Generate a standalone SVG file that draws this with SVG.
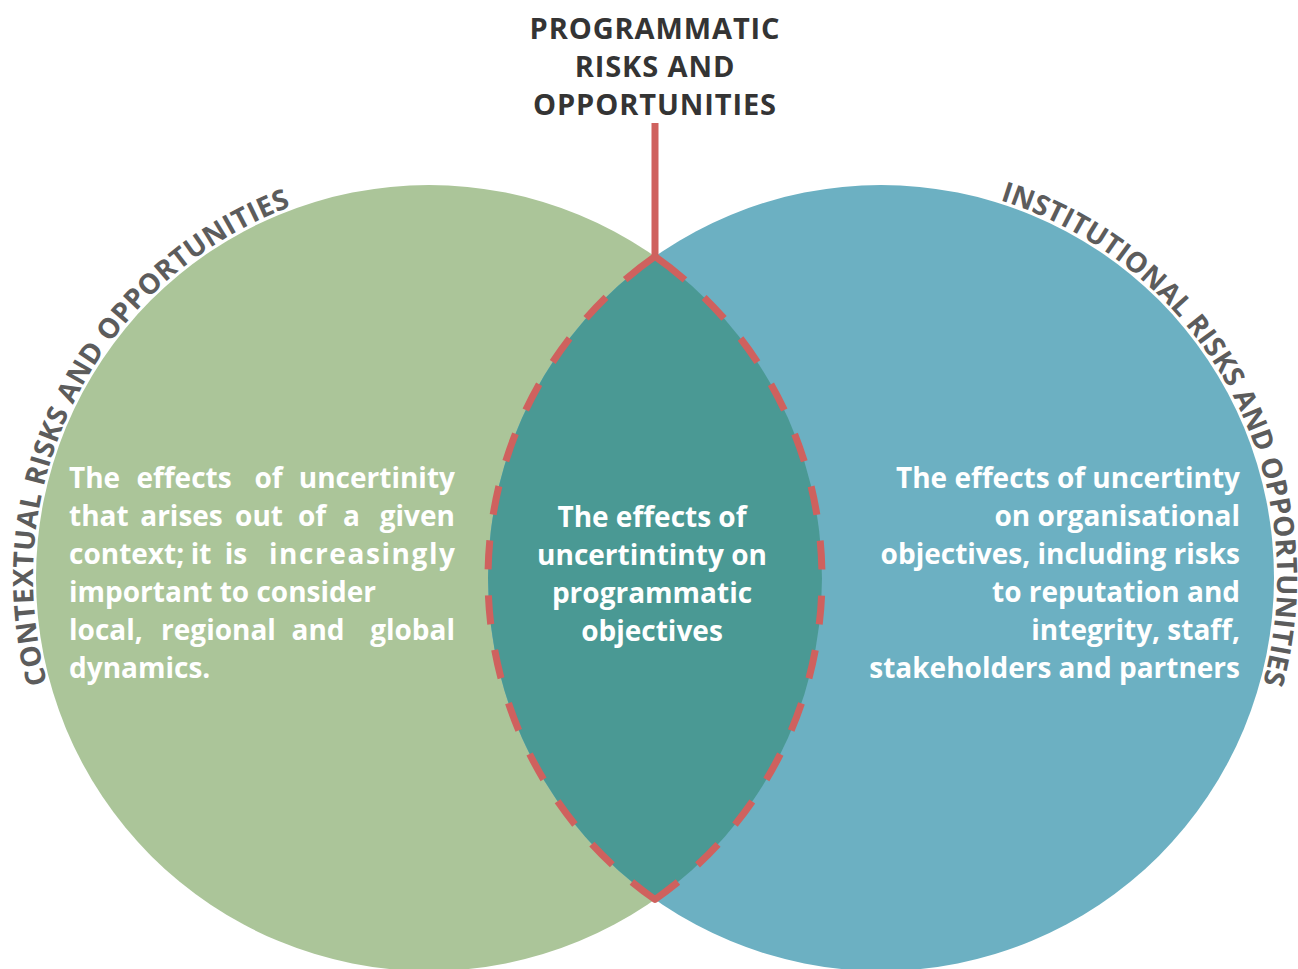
<svg xmlns="http://www.w3.org/2000/svg" xmlns:xlink="http://www.w3.org/1999/xlink" width="1298" height="969" viewBox="0 0 1298 969">
  <style>
    .t { font-family: 'Open Sans', 'Noto Sans', 'DejaVu Sans', sans-serif; font-weight: 700; }
    .title { font-size: 29px; fill: #343434; text-anchor: middle; letter-spacing: 0.9px; }
    .body { font-size: 28px; fill: #ffffff; }
    .m { text-anchor: middle; }
    .e { text-anchor: end; }
    .arc { font-size: 28px; fill: #5c5c5c; }
    .red { stroke: #cf615e; stroke-width: 7; fill: none; }
  </style>
  <defs>
    <path id="arcLeft" d="M 47.2 683 A 396 396 0 0 1 326 195.5"/>
    <path id="arcRight" d="M 1000.1 200.3 A 396 396 0 0 1 1240 745.4"/>
  </defs>
  <rect width="1298" height="969" fill="#ffffff"/>

  <g id="contextual">
    <circle cx="429" cy="578" r="393" fill="#abc599"/>
    <text class="t arc" letter-spacing="0.45"><textPath xlink:href="#arcLeft" href="#arcLeft">CONTEXTUAL RISKS AND OPPORTUNITIES</textPath></text>
    <text class="t body" x="69" y="488">The</text>
    <text class="t body m" x="184" y="488">effects</text>
    <text class="t body m" x="268.5" y="488">of</text>
    <text class="t body e" x="455" y="488">uncertinity</text>
    <text class="t body" x="69" y="526">that</text>
    <text class="t body m" x="181.5" y="526">arises</text>
    <text class="t body m" x="259" y="526">out</text>
    <text class="t body m" x="312" y="526">of</text>
    <text class="t body m" x="351.5" y="526">a</text>
    <text class="t body e" x="455" y="526">given</text>
    <text class="t body" x="69" y="564">context;</text>
    <text class="t body m" x="201" y="564">it</text>
    <text class="t body m" x="236" y="564">is</text>
    <text class="t body e" x="455" y="564" textLength="186" lengthAdjust="spacing">increasingly</text>
    <text class="t body" x="69" y="602">important to consider</text>
    <text class="t body" x="69" y="640">local,</text>
    <text class="t body m" x="218.5" y="640">regional</text>
    <text class="t body m" x="318" y="640">and</text>
    <text class="t body e" x="455" y="640">global</text>
    <text class="t body" x="69" y="678">dynamics.</text>
  </g>

  <g id="institutional">
    <circle cx="881" cy="578" r="393" fill="#6cb0c2"/>
    <text class="t arc" letter-spacing="0.15"><textPath xlink:href="#arcRight" href="#arcRight">INSTITUTIONAL RISKS AND OPPORTUNITIES</textPath></text>
    <text class="t body e" x="1240" y="488">The effects of uncertinty</text>
    <text class="t body e" x="1240" y="526">on organisational</text>
    <text class="t body e" x="1240" y="564">objectives, including risks</text>
    <text class="t body e" x="1240" y="602">to reputation and</text>
    <text class="t body e" x="1240" y="640">integrity, staff,</text>
    <text class="t body e" x="1240" y="678">stakeholders and partners</text>
  </g>

  <g id="programmatic">
    <path d="M 655 256.5 A 393 393 0 0 1 655 899.5 A 393 393 0 0 1 655 256.5 Z" fill="#4a9994"/>
    <text class="t body m" x="652" y="527">The effects of</text>
    <text class="t body m" x="652" y="565">uncertintinty on</text>
    <text class="t body m" x="652" y="603">programmatic</text>
    <text class="t body m" x="652" y="641">objectives</text>
  </g>

  <g id="programmatic-title">
    <text class="t title" x="655" y="39">PROGRAMMATIC</text>
    <text class="t title" x="655" y="77">RISKS AND</text>
    <text class="t title" x="655" y="115">OPPORTUNITIES</text>
  </g>

  <g id="connectors">
    <line class="red" x1="655" y1="123" x2="655" y2="256"/>
    <path class="red" d="M 655 256.5 A 393 393 0 0 1 655 899.5 A 393 393 0 0 1 655 256.5 Z" stroke-linejoin="round" stroke-dasharray="38 26 29 26 29 26 29 26 29 26 29 26 29 26 29 26 29 26 29 26 29 26 29 26 29 26 58 26 29 26 29 26 29 26 29 26 29 26 29 26 29 26 29 26 29 26 29 26 29 26 29 26 38"/>
  </g>
</svg>
